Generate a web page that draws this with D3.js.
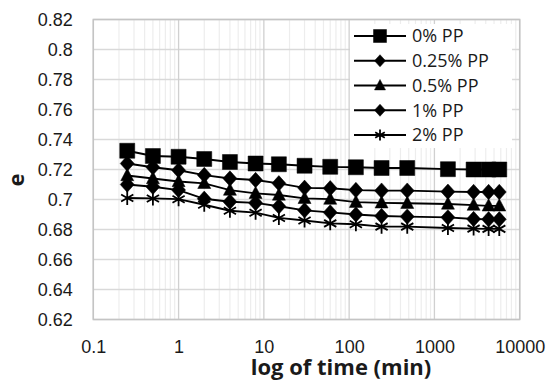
<!DOCTYPE html>
<html>
<head>
<meta charset="utf-8">
<script src="https://cdn.jsdelivr.net/npm/d3@7"></script>
<style>
  body { margin: 0; background: #fff; }
  svg { display: block; font-family: "Open Sans", sans-serif; }
  .axis path, .axis line { display: none; }
  .axis text { font-size: 18px; fill: #1a1a1a; }
</style>
</head>
<body>
<svg id="svg1" width="552" height="385"></svg>
<script>
// time of reading (min)
var times = [0.25, 0.5, 1, 2, 4, 8, 15, 30, 60, 120, 240, 480, 1440, 2880, 4320, 5760];

var seriesNames = ["0% PP", "0.25% PP", "0.5% PP", "1% PP", "2% PP"];
var seriesMarkers = ["square", "diamond", "triangle", "diamond", "asterisk"];

// void ratio e
var e0 = [0.7325, 0.729, 0.7285, 0.727, 0.725, 0.724, 0.7235, 0.7225, 0.7218, 0.7215, 0.721, 0.721, 0.7202, 0.7200, 0.7200, 0.7200];
var e025 = [0.724, 0.7215, 0.7195, 0.7163, 0.714, 0.713, 0.7108, 0.7078, 0.7075, 0.7063, 0.7059, 0.7059, 0.7052, 0.705, 0.705, 0.705];
var e05 = [0.716, 0.714, 0.712, 0.7108, 0.7063, 0.7041, 0.703, 0.7008, 0.7003, 0.6982, 0.6978, 0.6975, 0.697, 0.6963, 0.6958, 0.6958];
var e1 = [0.710, 0.7085, 0.7063, 0.7005, 0.6985, 0.6977, 0.6955, 0.6928, 0.6914, 0.6900, 0.689, 0.6886, 0.6881, 0.6870, 0.6868, 0.6868];
var e2 = [0.701, 0.7007, 0.7002, 0.6965, 0.6925, 0.6912, 0.6877, 0.6860, 0.6841, 0.6835, 0.6819, 0.6819, 0.6810, 0.6806, 0.6804, 0.6804];

var xTicks = [0.1, 1, 10, 100, 1000, 10000];
var yTicks = [0.62, 0.64, 0.66, 0.68, 0.7, 0.72, 0.74, 0.76, 0.78, 0.8, 0.82];

var svgId = "#svg1";
var params = {
  "plot": { "x": 93.3, "y": 19.5, "width": 426.4, "height": 300 },
  "legend": { "x": 350, "y": 24, "width": 162, "height": 124 }
};

var series = seriesNames.map(function(name, i) {
  var vals = [e0, e025, e05, e1, e2][i];
  return {
    "name": name,
    "marker": seriesMarkers[i],
    "values": times.map(function(t, j) { return { "t": t, "e": vals[j] }; })
  };
});

var scale = {
  "x": d3.scaleLog().domain([0.1, 10000]).range([0, params.plot.width]),
  "y": d3.scaleLinear().domain([0.62, 0.82]).range([params.plot.height, 0])
};

var axis = {
  "x": d3.axisBottom(scale.x).tickValues(xTicks).tickSize(0).tickPadding(21)
    .tickFormat(function(d) { return String(d); }),
  "y": d3.axisLeft(scale.y).tickValues(yTicks).tickSize(0).tickPadding(20.5)
    .tickFormat(function(d) { return String(+d.toFixed(2)); })
};

var translate = function(x, y) { return "translate(" + x + "," + y + ")"; };

// marker shapes, centred on 0,0
var markerPath = function(type, s) {
  if (type == "square") {
    return d3.symbol(d3.symbolSquare, s * s)();
  }
  if (type == "diamond") {
    var w = s * 0.5, h = s * 0.55;
    return "M0," + (-h) + "L" + w + ",0L0," + h + "L" + (-w) + ",0Z";
  }
  if (type == "triangle") {
    var a = s * 0.5;
    return "M0," + (-a * 1.1) + "L" + a + "," + (a * 0.8) + "L" + (-a) + "," + (a * 0.8) + "Z";
  }
  // asterisk: three crossing strokes
  var r = s * 0.5;
  return "M0," + (-r) + "L0," + r +
    "M" + (-r * 0.87) + "," + (-r * 0.5) + "L" + (r * 0.87) + "," + (r * 0.5) +
    "M" + (-r * 0.87) + "," + (r * 0.5) + "L" + (r * 0.87) + "," + (-r * 0.5);
};

var drawMarker = function(sel, type, s) {
  sel.append("path")
    .attr("d", markerPath(type, s))
    .attr("fill", type == "asterisk" ? "none" : "#000")
    .attr("stroke", "#000")
    .attr("stroke-width", type == "asterisk" ? 1.8 : 0.5);
};

var svg = d3.select(svgId);
var plot = svg.append("g").attr("id", "plot1").attr("transform", translate(params.plot.x, params.plot.y));

// minor vertical gridlines
var minor = [];
for (var dec = 0.1; dec < 10000; dec *= 10) {
  for (var k = 2; k <= 9; k++) minor.push(+(dec * k).toPrecision(3));
}
plot.selectAll("line.minor").data(minor).enter().append("line")
  .attr("class", "minor")
  .attr("x1", function(d) { return scale.x(d); }).attr("x2", function(d) { return scale.x(d); })
  .attr("y1", 0).attr("y2", params.plot.height)
  .attr("stroke", "#ededed").attr("stroke-width", 1.2);

plot.selectAll("line.hgrid").data(yTicks).enter().append("line")
  .attr("class", "hgrid")
  .attr("x1", 0).attr("x2", params.plot.width)
  .attr("y1", function(d) { return scale.y(d); }).attr("y2", function(d) { return scale.y(d); })
  .attr("stroke", "#d9d9d9").attr("stroke-width", 1.3);

plot.selectAll("line.vgrid").data(xTicks).enter().append("line")
  .attr("class", "vgrid")
  .attr("x1", function(d) { return scale.x(d); }).attr("x2", function(d) { return scale.x(d); })
  .attr("y1", 0).attr("y2", params.plot.height)
  .attr("stroke", "#d0d0d0").attr("stroke-width", 1.3);

plot.append("rect")
  .attr("x", 0).attr("y", 0)
  .attr("width", params.plot.width).attr("height", params.plot.height)
  .attr("fill", "none").attr("stroke", "#c4c4c4").attr("stroke-width", 1.5);

// legend background hides the gridlines behind it
svg.append("rect")
  .attr("x", params.legend.x).attr("y", params.legend.y)
  .attr("width", params.legend.width).attr("height", params.legend.height)
  .attr("fill", "#fff");

var line = d3.line()
  .x(function(d) { return scale.x(d.t); })
  .y(function(d) { return scale.y(d.e); });

var groups = plot.selectAll("g.series").data(series).enter().append("g").attr("class", "series");

groups.append("path")
  .attr("d", function(d) { return line(d.values); })
  .attr("fill", "none").attr("stroke", "#000").attr("stroke-width", 1.8);

groups.each(function(s) {
  var g = d3.select(this);
  var size = s.marker == "square" ? 15 : (s.marker == "triangle" ? 13 : 14);
  s.values.forEach(function(v) {
    var m = g.append("g").attr("transform", translate(scale.x(v.t), scale.y(v.e)));
    drawMarker(m, s.marker, size);
  });
});

var gx = svg.append("g").attr("class", "axis")
  .attr("transform", translate(params.plot.x, params.plot.y + params.plot.height))
  .call(axis.x);

var gy = svg.append("g").attr("class", "axis")
  .attr("transform", translate(params.plot.x, params.plot.y))
  .call(axis.y);

svg.append("text")
  .attr("x", 341).attr("y", 375)
  .attr("text-anchor", "middle")
  .style("font-size", "22px").style("font-weight", "bold").style("fill", "#1a1a1a")
  .text("log of time (min)");

svg.append("text")
  .attr("transform", "translate(15,180) rotate(-90)")
  .attr("text-anchor", "middle").attr("dominant-baseline", "central")
  .style("font-size", "22px").style("font-weight", "bold").style("fill", "#1a1a1a")
  .text("e");

// legend
var legend = svg.append("g").attr("transform", translate(354, 36));
var rows = legend.selectAll("g").data(series).enter().append("g")
  .attr("transform", function(d, i) { return translate(0, i * 24.75); });
rows.append("line").attr("x1", 0).attr("x2", 52).attr("y1", 0).attr("y2", 0)
  .attr("stroke", "#000").attr("stroke-width", 1.8);
rows.each(function(s) {
  var m = d3.select(this).append("g").attr("transform", translate(26, 0));
  drawMarker(m, s.marker, s.marker == "square" ? 13 : 11);
});
rows.append("text").attr("x", 58).attr("y", 0).attr("dy", "0.35em")
  .style("font-size", "18px").style("fill", "#1a1a1a")
  .text(function(d) { return d.name; });
</script>
</body>
</html>
